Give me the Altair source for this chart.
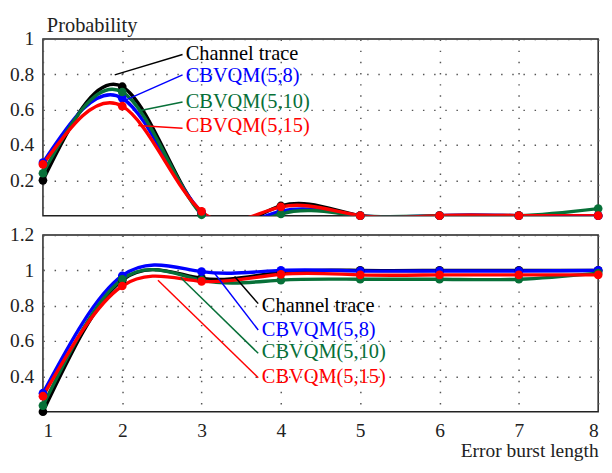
import altair as alt
import pandas as pd

x = [1, 2, 3, 4, 5, 6, 7, 8]
series = ["Channel trace", "CBVQM(5,8)", "CBVQM(5,10)", "CBVQM(5,15)"]
colors = ["#000000", "#0000FF", "#077038", "#FF0000"]

top_channel = [0.20, 0.73, 0.01, 0.055, 0.0, 0.0, 0.0, 0.0]
top_cb8 = [0.30, 0.665, 0.02, 0.025, 0.0, 0.0, 0.0, 0.0]
top_cb10 = [0.24, 0.70, 0.005, 0.01, 0.0, 0.0, 0.0, 0.04]
top_cb15 = [0.29, 0.62, 0.024, 0.05, 0.0, 0.0, 0.0, 0.0]

bot_channel = [0.20, 0.945, 0.955, 0.99, 1.0, 1.0, 1.0, 1.0]
bot_cb8 = [0.305, 0.97, 0.993, 1.0, 0.997, 0.997, 0.997, 1.0]
bot_cb10 = [0.235, 0.95, 0.945, 0.945, 0.95, 0.95, 0.95, 0.985]
bot_cb15 = [0.288, 0.912, 0.938, 0.978, 0.975, 0.975, 0.975, 0.975]

# annotation: text anchor and leader line (data coords)
top_text_x = [2.80, 2.80, 2.80, 2.80]
top_text_y = [0.912, 0.791, 0.643, 0.505]
top_lead_x1 = [1.905, 2.04, 2.20, 2.20]
top_lead_y1 = [0.797, 0.654, 0.593, 0.511]
top_lead_x2 = [2.76, 2.76, 2.76, 2.76]
top_lead_y2 = [0.912, 0.797, 0.643, 0.495]

bot_text_x = [3.76, 3.76, 3.76, 3.76]
bot_text_y = [0.80, 0.663, 0.536, 0.398]
bot_lead_x1 = [3.416, 3.156, 2.735, 2.45]
bot_lead_y1 = [0.966, 0.988, 0.960, 0.944]
bot_lead_x2 = [3.714, 3.714, 3.714, 3.714]
bot_lead_y2 = [0.812, 0.663, 0.531, 0.393]

FONT = "Liberation Serif"
FS = 21      # annotation text
AFS = 20     # axis labels / titles
W, H = 572, 182

color_scale = alt.Scale(domain=series, range=colors)


def long_df(vals):
    rows = []
    for i, (s, v) in enumerate(zip(series, vals)):
        for xi, yi in zip(x, v):
            rows.append({"x": xi, "y": yi, "series": s, "order": i})
    return pd.DataFrame(rows)


def ann_df(tx, ty, x1, y1, x2, y2):
    return pd.DataFrame({"series": series, "tx": tx, "ty": ty,
                         "x1": x1, "y1": y1, "x2": x2, "y2": y2})


def panel(vals, ann, ydom, yvals, show_x):
    df = long_df(vals)
    xscale = alt.Scale(domain=[1, 8], nice=False)
    yscale = alt.Scale(domain=ydom, nice=False)
    if show_x:
        xaxis = alt.Axis(values=x, grid=True, ticks=False, domain=False, format="~g",
                         labelPadding=9, title="Error burst length",
                         titleAnchor="end", titleAlign="right", titlePadding=1,
                         titleFontWeight="normal")
    else:
        xaxis = alt.Axis(values=x, grid=True, ticks=False, domain=False,
                         labels=False, title=None)
    yaxis = alt.Axis(values=yvals, grid=True, ticks=False, domain=False, format="~g",
                     labelPadding=9.5, title=None)
    base = alt.Chart(df)
    lines = base.mark_line(interpolate="natural", strokeWidth=3.5, clip=True).encode(
        x=alt.X("x:Q", scale=xscale, axis=xaxis),
        y=alt.Y("y:Q", scale=yscale, axis=yaxis),
        color=alt.Color("series:N", scale=color_scale, legend=None),
        order="order:Q",
        detail="series:N",
    )
    pts = base.mark_circle(size=80, opacity=1).encode(
        x="x:Q", y="y:Q",
        color=alt.Color("series:N", scale=color_scale, legend=None),
        order="order:Q",
    )
    rules = alt.Chart(ann).mark_rule(strokeWidth=1.5).encode(
        x="x1:Q", y="y1:Q", x2="x2:Q", y2="y2:Q",
        color=alt.Color("series:N", scale=color_scale, legend=None),
    )
    texts = alt.Chart(ann).mark_text(align="left", baseline="middle", font=FONT,
                                     fontSize=FS).encode(
        x="tx:Q", y="ty:Q", text="series:N",
        color=alt.Color("series:N", scale=color_scale, legend=None),
    )
    return alt.layer(lines, pts, rules, texts).properties(width=W, height=H)


top = panel([top_channel, top_cb8, top_cb10, top_cb15],
            ann_df(top_text_x, top_text_y, top_lead_x1, top_lead_y1, top_lead_x2, top_lead_y2),
            [0, 1], [0.2, 0.4, 0.6, 0.8, 1.0], False).properties(
    title=alt.TitleParams("Probability", anchor="start", frame="group", font=FONT,
                          fontSize=FS, fontWeight="normal", color="#222222",
                          dx=4, offset=-7))
bottom = panel([bot_channel, bot_cb8, bot_cb10, bot_cb15],
               ann_df(bot_text_x, bot_text_y, bot_lead_x1, bot_lead_y1, bot_lead_x2, bot_lead_y2),
               [0.2, 1.2], [0.4, 0.6, 0.8, 1.0, 1.2], True)

chart = alt.vconcat(top, bottom, spacing=20, bounds="flush").properties(
    padding={"left": 0, "top": 0, "right": 0, "bottom": 0},
    background="white",
).configure_view(
    stroke="#222222", strokeWidth=1.5
).configure_axis(
    labelFont=FONT, labelFontSize=AFS, labelColor="#222222",
    titleFont=FONT, titleFontSize=AFS, titleColor="#222222",
    gridColor="#555555", gridDash=[1.5, 10], gridWidth=1.5, gridOpacity=1,
)

chart.save("out.html", embed_options={"renderer": "svg", "actions": False})
